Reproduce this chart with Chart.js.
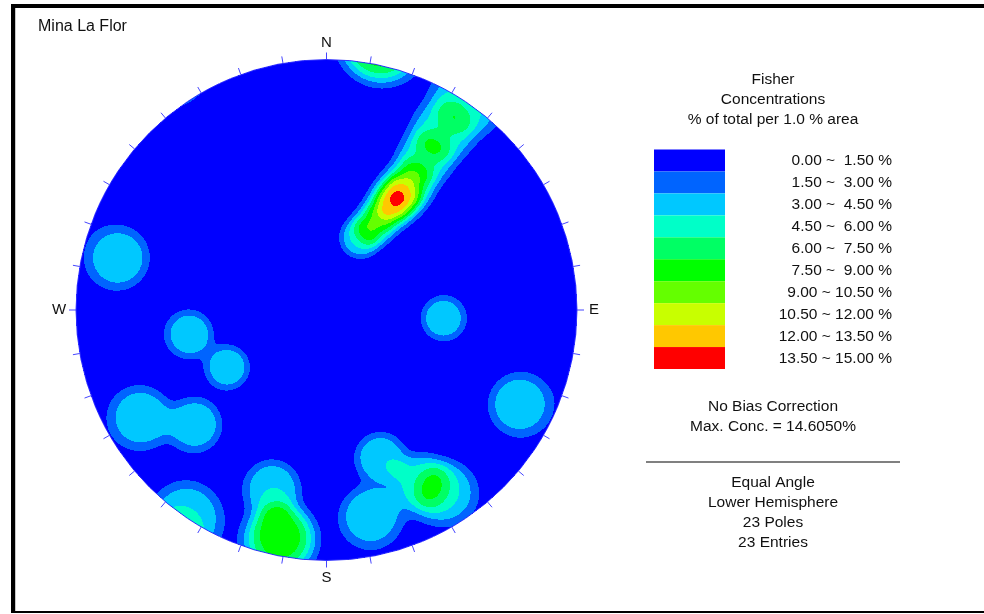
<!DOCTYPE html>
<html>
<head>
<meta charset="utf-8">
<script src="https://cdn.jsdelivr.net/npm/chart.js@4/dist/chart.umd.min.js"></script>
<style>
  html, body { margin: 0; padding: 0; background: #fff; }
  #wrap { width: 984px; height: 614px; position: relative; }
</style>
</head>
<body>
<div id="wrap"><canvas id="net" width="984" height="614"></canvas></div>
<script>
// Poles to joint planes (trend / plunge, degrees), lower hemisphere
const poleTrends  = [284, 260, 240,  94, 116, 240, 229,  151.5, 147, 160, 168, 192, 191, 197, 214,  33,   33, 33.5, 33, 32,   31, 29, 25];
const polePlunges = [  9,  32,  41,  40,   9,   9, 20.5, 14,   8.3, 26,  10,   4,   5,  17, 0.5, 9.5, 18.5, 27.5, 33, 35.5, 41, 48, 55];

// Contour intervals (% of total per 1.0 % area)
const binEdges  = [0, 1.5, 3, 4.5, 6, 7.5, 9, 10.5, 12, 13.5, 15];
const binColors = ['#0000ff', '#0064ff', '#00c8ff', '#00ffc8', '#00ff64',
                   '#00ff00', '#64ff00', '#c8ff00', '#ffc800', '#ff0000'];
const binLabels = ['0.00 ~  1.50 %', '1.50 ~  3.00 %', '3.00 ~  4.50 %', '4.50 ~  6.00 %',
                   '6.00 ~  7.50 %', '7.50 ~  9.00 %', '9.00 ~ 10.50 %', '10.50 ~ 12.00 %',
                   '12.00 ~ 13.50 %', '13.50 ~ 15.00 %'];

// Compass ticks every 10 degrees
const tickAzimuths = Array.from({length: 36}, (_, i) => i * 10);
const compassLabels = [{t: 'N', az: 0}, {t: 'E', az: 90}, {t: 'S', az: 180}, {t: 'W', az: 270}];

const titleText = 'Mina La Flor';
const headerLines = ['Fisher', 'Concentrations', '% of total per 1.0 % area'];
const noteLines = ['No Bias Correction', 'Max. Conc. = 14.6050%'];
const infoLines = ['Equal Angle', 'Lower Hemisphere', '23 Poles', '23 Entries'];

// Fisher counting: 1 % counting cone, smoothed edge
const coneAngle = 7.7;   // degrees
const coneSoft  = 1.5;   // degrees

const D2R = Math.PI / 180;
const poleVecs = poleTrends.map((t, i) => {
  const p = polePlunges[i] * D2R, a = t * D2R;
  return [Math.cos(p) * Math.cos(a), Math.cos(p) * Math.sin(a), Math.sin(p)]; // north, east, down
});
const perPole = 100 / poleVecs.length;

function densityAt(n, e, d) {
  let s = 0;
  for (const v of poleVecs) {
    const c = Math.min(1, Math.abs(n * v[0] + e * v[1] + d * v[2]));
    const th = Math.acos(c) / D2R;
    s += 1 / (1 + Math.exp((th - coneAngle) / coneSoft));
  }
  return s * perPole;
}

function binIndex(v) {
  for (let i = binEdges.length - 2; i >= 0; i--) if (v >= binEdges[i]) return i;
  return 0;
}

function hexToRgb(h) {
  return [parseInt(h.slice(1, 3), 16), parseInt(h.slice(3, 5), 16), parseInt(h.slice(5, 7), 16)];
}
const binRgb = binColors.map(hexToRgb);

const FONT = '"Liberation Sans", Arial, sans-serif';

const stereonetPlugin = {
  id: 'stereonet',
  beforeDatasetsDraw(chart) {
    const {ctx, chartArea: ca, scales: {x, y}} = chart;
    const x0 = Math.floor(ca.left), y0 = Math.floor(ca.top);
    const w = Math.ceil(ca.right) - x0, h = Math.ceil(ca.bottom) - y0;
    const off = document.createElement('canvas');
    off.width = w; off.height = h;
    const octx = off.getContext('2d');
    const img = octx.createImageData(w, h);
    for (let j = 0; j < h; j++) {
      const vy = y.getValueForPixel(y0 + j + 0.5);
      for (let i = 0; i < w; i++) {
        const vx = x.getValueForPixel(x0 + i + 0.5);
        const r = Math.hypot(vx, vy);
        if (r > 1) continue;
        // inverse equal-angle (stereographic) projection
        const alpha = 2 * Math.atan(r);
        const sa = Math.sin(alpha);
        const n = r > 0 ? sa * vy / r : 0;
        const e = r > 0 ? sa * vx / r : 0;
        const d = Math.cos(alpha);
        const rgb = binRgb[binIndex(densityAt(n, e, d))];
        const k = (j * w + i) * 4;
        img.data[k] = rgb[0]; img.data[k + 1] = rgb[1]; img.data[k + 2] = rgb[2]; img.data[k + 3] = 255;
      }
    }
    octx.putImageData(img, 0, 0);
    ctx.drawImage(off, x0, y0);

    const cx = x.getPixelForValue(0), cy = y.getPixelForValue(0);
    const R = x.getPixelForValue(1) - cx;
    ctx.save();
    ctx.strokeStyle = '#3030ff';
    ctx.lineWidth = 1;
    ctx.beginPath();
    ctx.arc(cx, cy, R, 0, Math.PI * 2);
    ctx.stroke();

    ctx.strokeStyle = '#4646ff';
    for (const az of tickAzimuths) {
      const a = az * D2R;
      const px = x.getPixelForValue(Math.sin(a)), py = y.getPixelForValue(Math.cos(a));
      ctx.beginPath();
      ctx.moveTo(px, py);
      ctx.lineTo(px + 7 * Math.sin(a), py - 7 * Math.cos(a));
      ctx.stroke();
    }

    ctx.fillStyle = '#111';
    ctx.font = '15px ' + FONT;
    ctx.textAlign = 'center';
    ctx.textBaseline = 'middle';
    for (const c of compassLabels) {
      const a = c.az * D2R;
      const px = x.getPixelForValue(Math.sin(a)), py = y.getPixelForValue(Math.cos(a));
      ctx.fillText(c.t, px + 17 * Math.sin(a), py - 17 * Math.cos(a));
    }
    ctx.restore();
  },
  afterDraw(chart) {
    const ctx = chart.ctx;
    ctx.save();
    // frame
    ctx.fillStyle = '#000';
    ctx.fillRect(11, 4, 973, 4);
    ctx.fillRect(11, 4, 4, 609);
    ctx.fillRect(11, 611, 973, 2);
    ctx.fillStyle = '#c8c8c8';
    ctx.fillRect(15, 8, 1, 603);

    ctx.fillStyle = '#111';
    ctx.textBaseline = 'middle';
    ctx.font = '16px ' + FONT;
    ctx.textAlign = 'left';
    ctx.fillText(titleText, 38, 27);

    ctx.font = '15.5px ' + FONT;
    ctx.textAlign = 'center';
    headerLines.forEach((t, i) => ctx.fillText(t, 773, 80 + i * 20));

    // colour legend
    const top = 149.5, bh = 21.95;
    binColors.forEach((c, i) => {
      ctx.fillStyle = c;
      ctx.fillRect(654, top + i * bh, 71, bh);
    });
    ctx.fillStyle = '#111';
    ctx.textAlign = 'right';
    binLabels.forEach((t, i) => ctx.fillText(t, 892, top + i * bh + bh / 2 + 0.5));

    ctx.textAlign = 'center';
    noteLines.forEach((t, i) => ctx.fillText(t, 773, 407 + i * 20));

    ctx.fillStyle = '#808080';
    ctx.fillRect(646, 461, 254, 2);

    ctx.fillStyle = '#111';
    infoLines.forEach((t, i) => ctx.fillText(t, 773, 483 + i * 20));
    ctx.restore();
  }
};

new Chart(document.getElementById('net'), {
  type: 'scatter',
  data: { datasets: [] },
  options: {
    responsive: false,
    animation: false,
    devicePixelRatio: 1,
    layout: { padding: { left: 76, right: 407, top: 59.5, bottom: 53.5 } },
    plugins: { legend: { display: false }, tooltip: { enabled: false } },
    scales: {
      x: { type: 'linear', min: -1, max: 1, display: false },
      y: { type: 'linear', min: -1, max: 1, display: false }
    }
  },
  plugins: [stereonetPlugin]
});
</script>
</body>
</html>
